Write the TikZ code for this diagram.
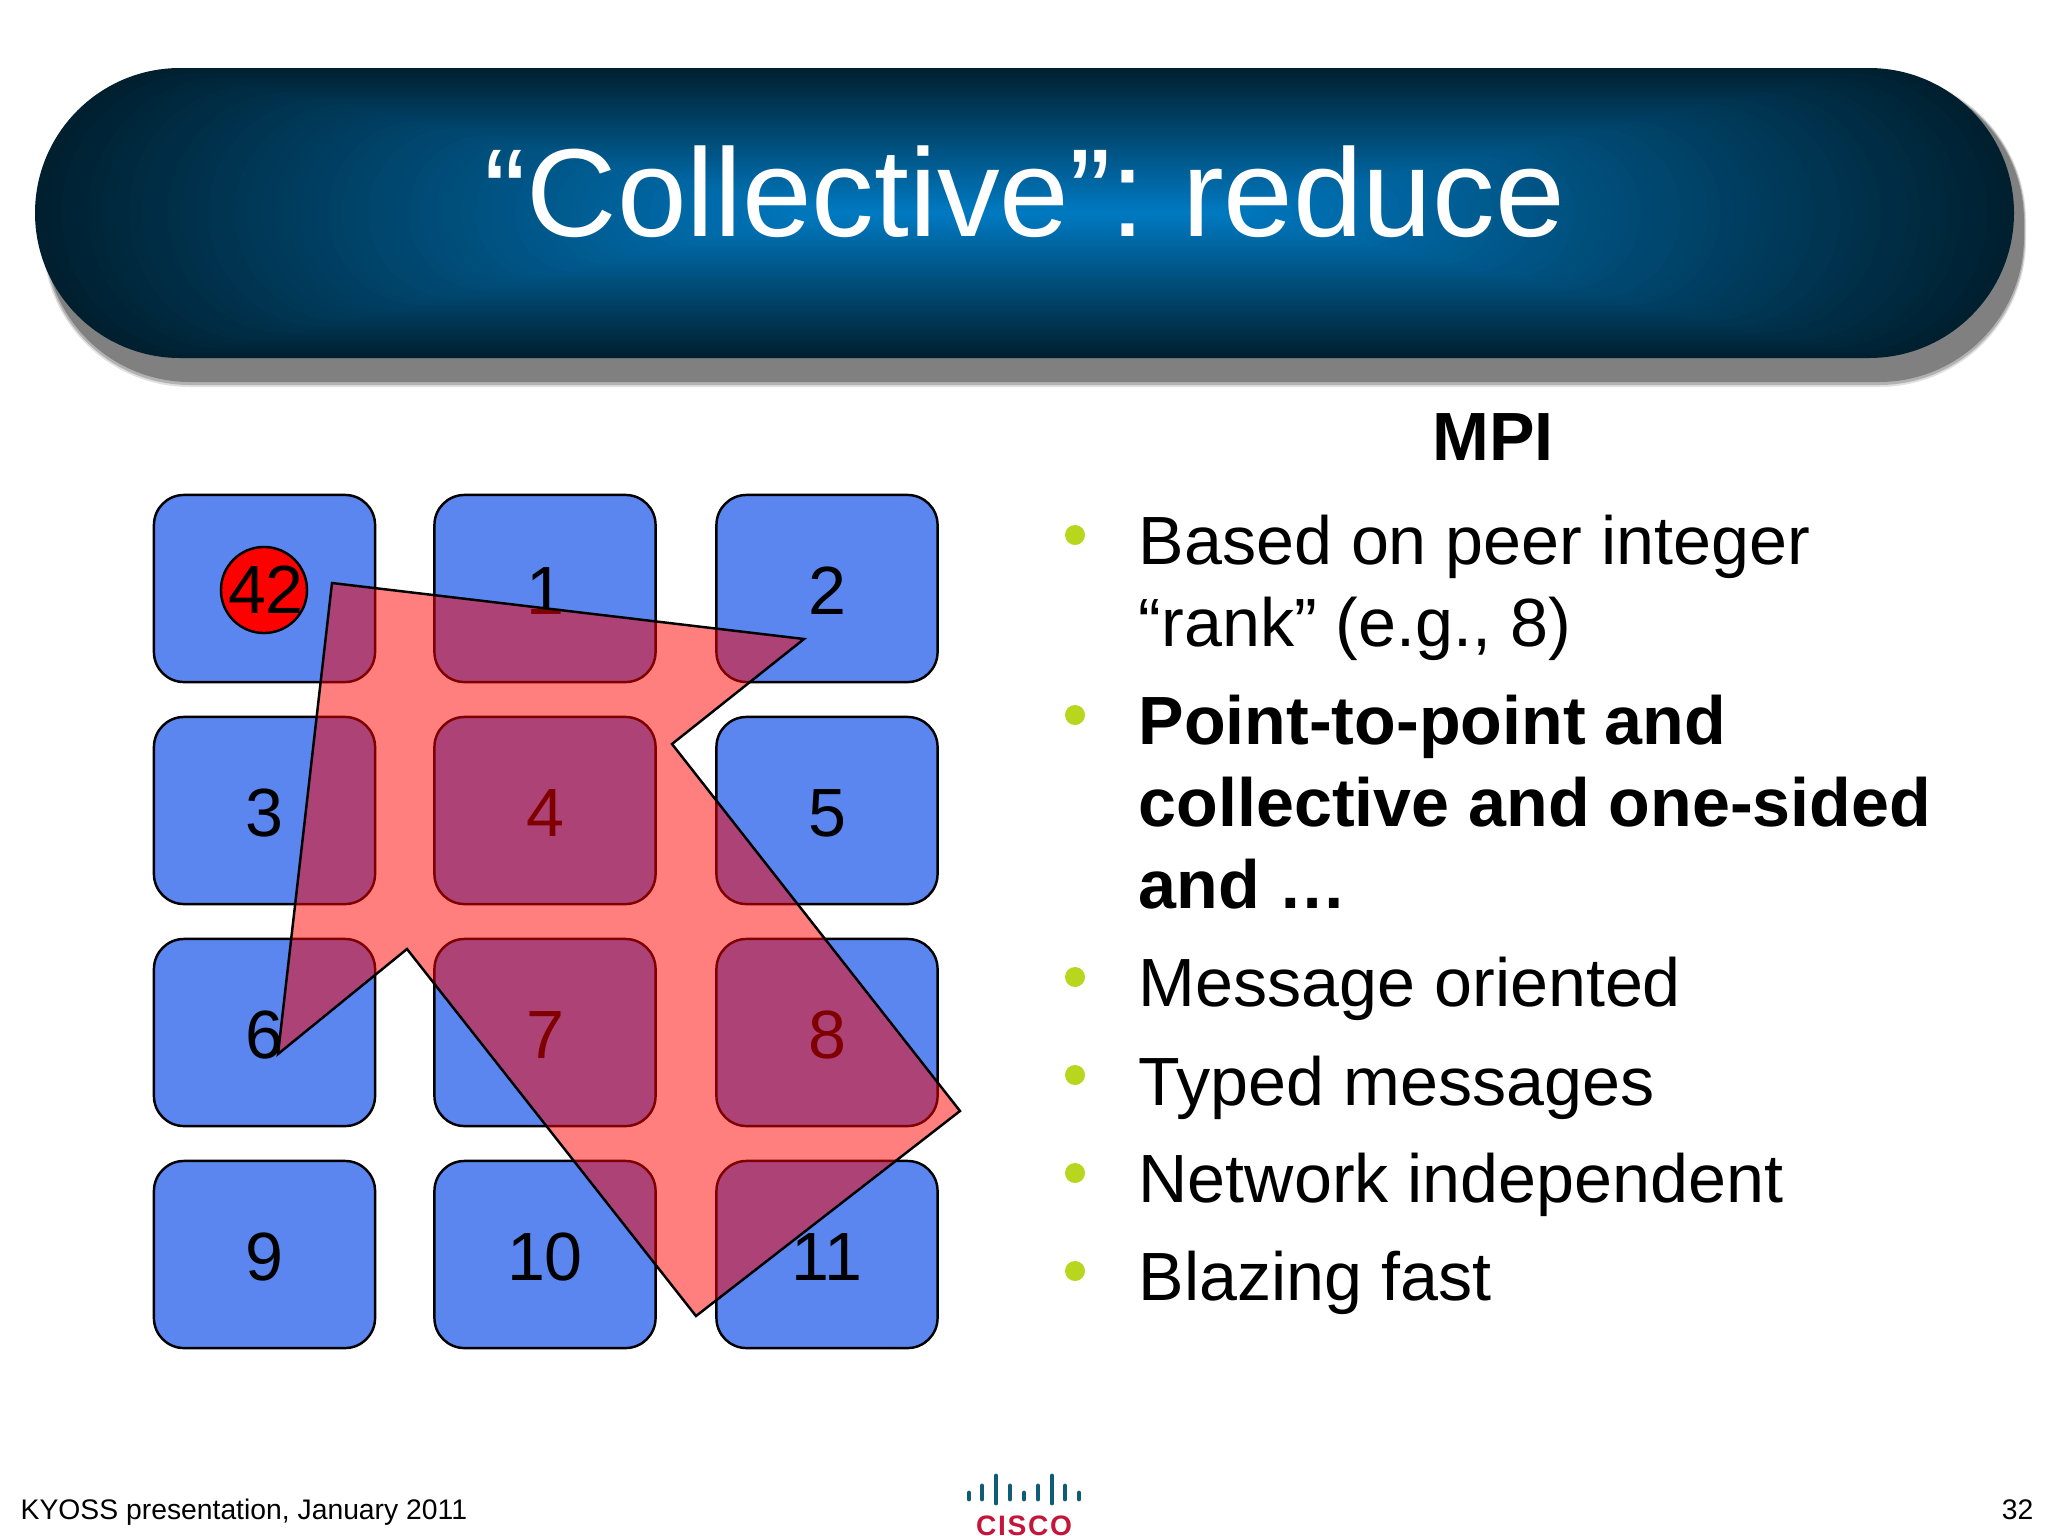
\documentclass[tikz,border=0pt]{standalone}
\usepackage{fontspec}
\setmainfont{Liberation Sans}
\newfontfamily\logofont[LetterSpace=6]{Liberation Sans}
\definecolor{rankblue}{RGB}{91, 134, 240}
\definecolor{bannerdark}{RGB}{0, 32, 48}
\definecolor{bannerblue}{RGB}{0, 122, 194}
\definecolor{bulletgreen}{RGB}{184, 214, 30}
\definecolor{ciscoteal}{RGB}{14, 92, 118}
\definecolor{ciscored}{RGB}{196, 22, 58}
\tikzset{
  rankbox/.style={draw=black, fill=rankblue, line width=0.7pt, rounded corners=0.3cm, minimum width=2.21cm, minimum height=1.87cm, inner sep=0pt, text height=0.515cm, text depth=0pt, font=\fontsize{19.4}{23}\selectfont},
  rootdot/.style={circle, draw=black, fill=red, line width=0.7pt, minimum size=0.86cm, inner sep=0pt},
  bullettext/.style={anchor=north west, inner sep=0pt, align=left, font=\fontsize{19.4}{23.3}\selectfont},
  bulletdot/.style={circle, fill=bulletgreen, minimum size=0.2cm, inner sep=0pt},
  footer/.style={inner sep=0pt, font=\fontsize{8.05}{10}\selectfont},
  logobar/.style={draw=ciscoteal, line width=1.4pt, line cap=round}
}

\begin{document}
\begin{tikzpicture}[x=0.01cm, y=-0.01cm]
  \useasboundingbox (0,0) rectangle (2048,1536);

  % Banner shadow and banner
  \fill[black!12, rounded corners=1.47cm] (43,74) rectangle (2026,387);
  \fill[black!30, rounded corners=1.46cm] (44,75) rectangle (2025,385);
  \fill[black!50, rounded corners=1.45cm] (45,76) rectangle (2024,382);
  \foreach \i in {0,...,60} {
    \pgfmathsetmacro{\mixp}{\i/60*100}
    \pgfmathsetmacro{\insx}{\i/60*800}
    \pgfmathsetmacro{\insy}{\i/60*144.5}
    \pgfmathsetmacro{\rad}{1.45-\i/60*1.445}
    \fill[bannerblue!\mixp!bannerdark, rounded corners=\rad cm] (35+\insx,68+\insy) rectangle (2014-\insx,358-\insy);
  }
  \node[anchor=base, inner sep=0pt, text=white, font=\fontsize{35.6}{40}\selectfont] (title) at (1025,236) {“Collective”:\kern-0.08em{} reduce};

  % Grid of ranks
  \node[rankbox] (rank0) at (264.5,588.5) {};
  \node[rootdot] (root) at (264,590) {};
  \node[inner sep=0pt, font=\fontsize{19.4}{23}\selectfont] (rootval) at (266,590) {42};
  \node[rankbox] (rank1) at (545,588.5) {1};
  \node[rankbox] (rank2) at (827,588.5) {2};
  \node[rankbox] (rank3) at (264.5,810.5) {3};
  \node[rankbox] (rank4) at (545,810.5) {4};
  \node[rankbox] (rank5) at (827,810.5) {5};
  \node[rankbox] (rank6) at (264.5,1032.5) {6};
  \node[rankbox] (rank7) at (545,1032.5) {7};
  \node[rankbox] (rank8) at (827,1032.5) {8};
  \node[rankbox] (rank9) at (264.5,1254.5) {9};
  \node[rankbox] (rank10) at (545,1254.5) {10};
  \node[rankbox] (rank11) at (827,1254.5) {11};

  % Big arrow over the grid
  \fill[red, fill opacity=0.5] (332,583) -- (804,639) -- (672,744) -- (960,1111) -- (696,1316) -- (407,949) -- (278,1054) -- cycle;
  \draw[black, line width=0.7pt, line join=miter] (332,583) -- (804,639) -- (672,744) -- (960,1111) -- (696,1316) -- (407,949) -- (278,1054) -- cycle;

  % Right column
  \node[anchor=base, inner sep=0pt, font=\fontsize{19.4}{23}\selectfont\bfseries] (mpi) at (1493,460) {MPI};
  \node[bulletdot] (dot1) at (1075,535) {};
  \node[bullettext] (item1) at (1138,514) {Based on peer integer\\“rank” (e.g., 8)};
  \node[bulletdot] (dot2) at (1075,715) {};
  \node[bullettext, font=\fontsize{19.4}{23.3}\selectfont\bfseries] (item2) at (1138,694) {Point-to-point and\\collective and one-sided\\and …};
  \node[bulletdot] (dot3) at (1075,977) {};
  \node[bullettext] (item3) at (1138,956) {Message oriented};
  \node[bulletdot] (dot4) at (1075,1075) {};
  \node[bullettext] (item4) at (1138,1055) {Typed messages};
  \node[bulletdot] (dot5) at (1075,1173) {};
  \node[bullettext] (item5) at (1138,1152) {Network independent};
  \node[bulletdot] (dot6) at (1075,1271) {};
  \node[bullettext] (item6) at (1138,1250) {Blazing fast};

  % Footer
  \node[footer, anchor=base west] (event) at (20,1519) {KYOSS presentation, January 2011};
  \node[footer, anchor=base east] (page) at (2034,1519) {32};

  % Logo
  \draw[logobar] (969,1493) -- (969,1499);
  \draw[logobar] (982,1486) -- (982,1499);
  \draw[logobar] (996,1476) -- (996,1503);
  \draw[logobar] (1010,1486) -- (1010,1499);
  \draw[logobar] (1024,1493) -- (1024,1499);
  \draw[logobar] (1038,1486) -- (1038,1499);
  \draw[logobar] (1052,1476) -- (1052,1503);
  \draw[logobar] (1065,1486) -- (1065,1499);
  \draw[logobar] (1079,1493) -- (1079,1499);
  \node[anchor=base, inner sep=0pt, text=ciscored, font=\fontsize{8}{10}\logofont\bfseries] (cisco) at (1024,1535) {CISCO};
\end{tikzpicture}
\end{document}
